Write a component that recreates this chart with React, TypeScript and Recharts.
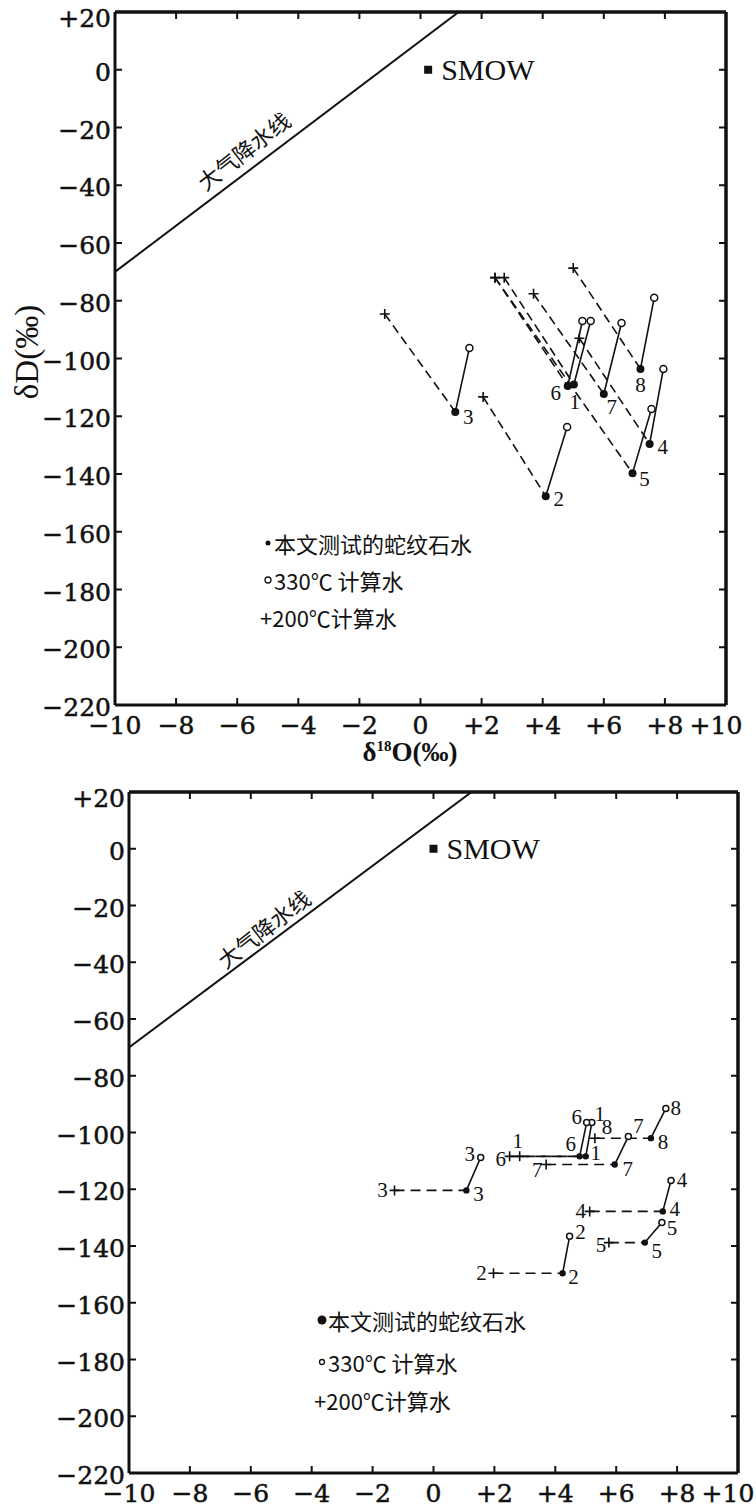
import React from 'react';
import { ScatterChart, Scatter, XAxis, YAxis, ReferenceLine } from 'recharts';

// sample numbers, same order in every array below
const SAMPLE_IDS = ['1', '2', '3', '4', '5', '6', '7', '8'];

// upper figure: measured serpentine water, 330°C water, 200°C water (δ18O, δD)
const TOP_SERP_O = [5.02, 4.1, 1.14, 7.5, 6.94, 4.82, 6.0, 7.2];
const TOP_SERP_D = [-109, -147.7, -118.5, -129.6, -139.7, -109.5, -112.3, -103.6];
const TOP_W330_O = [5.57, 4.8, 1.6, 7.95, 7.56, 5.3, 6.58, 7.65];
const TOP_W330_D = [-87, -123.7, -96.4, -103.6, -117.5, -87, -87.7, -79];
const TOP_W200_O = [2.74, 2.05, -1.17, 5.2, 2.44, 2.44, 3.7, 5.0];
const TOP_W200_D = [-72, -113.3, -84.6, -93, -72, -72, -77.6, -68.7];

// lower figure
const BOT_SERP_O = [5.0, 4.24, 1.08, 7.53, 6.94, 4.8, 5.95, 7.14];
const BOT_SERP_D = [-108.4, -149.6, -120.4, -127.8, -138.8, -108.4, -111.3, -102];
const BOT_W330_O = [5.2, 4.47, 1.55, 7.8, 7.5, 5.03, 6.4, 7.63];
const BOT_W330_D = [-96.5, -136.6, -108.8, -116.9, -131.7, -96.5, -101.4, -91.5];
const BOT_W200_O = [2.83, 1.97, -1.28, 5.13, 5.76, 2.5, 3.7, 5.3];
const BOT_W200_D = [-108.4, -149.6, -120.4, -127.8, -138.8, -108.4, -111.3, -102];

// meteoric water line end points and SMOW
const MWL_O = [-10, 1.25];
const MWL_D = [-70, 20];
const SMOW_TOP = { o: 0.25, d: 0 };
const SMOW_BOT = { o: 0, d: 0 };

const O_TICKS = [-10, -8, -6, -4, -2, 0, 2, 4, 6, 8, 10];
const D_TICKS = [-220, -200, -180, -160, -140, -120, -100, -80, -60, -40, -20, 0, 20];

// label offsets in px (dx, dy) for the sample numbers
const TOP_SERP_LBL = [[1, 18], [13, 3], [13, 5], [13, 3], [12, 6], [-12, 7], [8, 13], [0, 16]];
const BOT_SERP_LBL = [[10, -3], [11, 4], [12, 4], [12, -2], [12, 8], [-9, -12], [13, 4], [12, 4]];
const BOT_W330_LBL = [[8, -9], [11, -4], [-11, -3], [11, 0], [10, 6], [-10, -6], [10, -10], [10, 0]];
const BOT_W200_LBL = [[-2, -15], [-12, 0], [-12, 0], [-9, 0], [-8, 2], [-9, 3], [-9, 5], [12, -11]];

const INK = '#111';
const FONT_NUM = '"DejaVu Serif", serif';
const FONT_LBL = '"Liberation Serif", serif';
const FONT_CJK = '"Noto Sans CJK SC", sans-serif';

type Pt = { o: number; d: number; label?: string; dx: number; dy: number };

const build = (os: number[], ds: number[], lbl?: number[][]): Pt[] =>
  os.map((o, i) => ({
    o,
    d: ds[i],
    label: lbl ? SAMPLE_IDS[i] : undefined,
    dx: lbl ? lbl[i][0] : 0,
    dy: lbl ? lbl[i][1] : 0,
  }));

const fmt = (v: number) => (v > 0 ? `+${v}` : v < 0 ? `\u2212${-v}` : '0');

const tickText = { fill: INK, stroke: INK, strokeWidth: 0.5, fontSize: 25, fontFamily: FONT_NUM };

const xTick = (p: any) => {
  const v = p.payload.value;
  return (
    <text x={p.x + (v === 10 ? -10 : 0)} y={p.y} dy="0.71em" textAnchor="middle" {...tickText}>
      {fmt(v)}
    </text>
  );
};

const yTick = (p: any) => {
  const v = p.payload.value;
  return (
    <text x={p.x} y={p.y + (v === 20 ? 6 : 2)} dy="0.36em" textAnchor="end" {...tickText}>
      {fmt(v)}
    </text>
  );
};

const noTick = () => <g />;

const numLabel = (p: any) =>
  p.payload.label ? (
    <text
      x={p.cx + p.payload.dx}
      y={p.cy + p.payload.dy}
      textAnchor="middle"
      dominantBaseline="central"
      fontFamily={FONT_LBL}
      fontSize={21}
      fill={INK}
    >
      {p.payload.label}
    </text>
  ) : null;

const solidShape = (r: number) => (p: any) => (
  <g>
    <circle cx={p.cx} cy={p.cy} r={r} fill={INK} />
    {numLabel(p)}
  </g>
);

const openShape = (r: number) => (p: any) => (
  <g>
    <circle cx={p.cx} cy={p.cy} r={r} fill="#fff" stroke={INK} strokeWidth={1.5} />
    {numLabel(p)}
  </g>
);

const plusShape = (a: number) => (p: any) => (
  <g>
    <path d={`M${p.cx - a},${p.cy}H${p.cx + a}M${p.cx},${p.cy - a}V${p.cy + a}`} stroke={INK} strokeWidth={1.6} />
    {numLabel(p)}
  </g>
);

const noShape = () => <g />;

const smowShape = (p: any) => (
  <g>
    <rect x={p.cx - 4} y={p.cy - 4} width={8} height={8} fill={INK} />
    <text x={p.cx + 13} y={p.cy} dominantBaseline="central" fontFamily={FONT_LBL} fontSize={30} fill={INK}>
      SMOW
    </text>
  </g>
);

type ChartProps = {
  serp: Pt[];
  w330: Pt[];
  w200: Pt[];
  smow: { o: number; d: number };
  width: number;
  height: number;
  margin: { top: number; right: number; bottom: number; left: number };
  yWidth: number;
  xHeight: number;
  dash: string;
  solidR: number;
  openR: number;
};

function IsotopeChart(c: ChartProps) {
  const mwl = MWL_O.map((o, i) => ({ o, d: MWL_D[i] }));
  const axisLine = { stroke: INK, strokeWidth: 3 };
  const tickLine = { stroke: INK, strokeWidth: 2 };
  return (
    <ScatterChart width={c.width} height={c.height} margin={c.margin}>
      <XAxis
        type="number"
        dataKey="o"
        domain={[-10, 10]}
        ticks={O_TICKS}
        interval={0}
        allowDataOverflow
        height={c.xHeight}
        tickSize={-7}
        tickMargin={18}
        tick={xTick}
        axisLine={axisLine}
        tickLine={tickLine}
      />
      <YAxis
        type="number"
        dataKey="d"
        domain={[-220, 20]}
        ticks={D_TICKS}
        interval={0}
        allowDataOverflow
        width={c.yWidth}
        tickSize={-7}
        tickMargin={11}
        tick={yTick}
        axisLine={axisLine}
        tickLine={tickLine}
      />
      <XAxis
        xAxisId="top"
        orientation="top"
        type="number"
        dataKey="o"
        domain={[-10, 10]}
        ticks={O_TICKS}
        interval={0}
        allowDataOverflow
        height={1}
        tickSize={-7}
        tick={noTick}
        axisLine={axisLine}
        tickLine={tickLine}
      />
      <YAxis
        yAxisId="right"
        orientation="right"
        type="number"
        dataKey="d"
        domain={[-220, 20]}
        ticks={D_TICKS}
        interval={0}
        allowDataOverflow
        width={1}
        tickSize={-7}
        tick={noTick}
        axisLine={axisLine}
        tickLine={tickLine}
      />
      <ReferenceLine y={20} stroke={INK} strokeWidth={3} />
      <ReferenceLine x={10} stroke={INK} strokeWidth={3} />
      <Scatter xAxisId="top" yAxisId="right" data={[c.smow]} shape={noShape} isAnimationActive={false} />
      <Scatter data={mwl} line={{ stroke: INK, strokeWidth: 2 }} shape={noShape} isAnimationActive={false} />
      {SAMPLE_IDS.map((id, i) => (
        <Scatter
          key={`d${id}`}
          data={[c.w200[i], c.serp[i]]}
          line={{ stroke: INK, strokeWidth: 1.6, strokeDasharray: c.dash }}
          shape={noShape}
          isAnimationActive={false}
        />
      ))}
      {SAMPLE_IDS.map((id, i) => (
        <Scatter
          key={`s${id}`}
          data={[c.serp[i], c.w330[i]]}
          line={{ stroke: INK, strokeWidth: 1.6 }}
          shape={noShape}
          isAnimationActive={false}
        />
      ))}
      <Scatter data={c.w200} shape={plusShape(5)} isAnimationActive={false} />
      <Scatter data={c.w330} shape={openShape(c.openR)} isAnimationActive={false} />
      <Scatter data={c.serp} shape={solidShape(c.solidR)} isAnimationActive={false} />
      <Scatter data={[c.smow]} shape={smowShape} isAnimationActive={false} />
    </ScatterChart>
  );
}

const abs = (left: number, top: number, extra: React.CSSProperties = {}): React.CSSProperties => ({
  position: 'absolute',
  left,
  top,
  whiteSpace: 'nowrap',
  color: INK,
  lineHeight: 1,
  ...extra,
});

function LegendRows({ x, ys, size, dotR, ringR }: { x: number; ys: number[]; size: number; dotR: number; ringR: number }) {
  const txt = { fontFamily: FONT_CJK, fontSize: size, transform: 'translateY(-50%)' };
  return (
    <>
      <svg style={abs(x - 6, ys[0] - 6)} width={12} height={12}>
        <circle cx={6} cy={6} r={dotR} fill={INK} />
      </svg>
      <div style={abs(x + 6, ys[0], txt)}>本文测试的蛇纹石水</div>
      <svg style={abs(x - 6, ys[1] - 6)} width={12} height={12}>
        <circle cx={6} cy={6} r={ringR} fill="#fff" stroke={INK} strokeWidth={1.3} />
      </svg>
      <div style={abs(x + 6, ys[1], txt)}>330℃ 计算水</div>
      <div style={abs(x - 8, ys[2], txt)}>+200℃计算水</div>
    </>
  );
}

export default function App() {
  return (
    <div style={{ position: 'absolute', left: 0, top: 0, width: 756, height: 1510, background: '#fff' }}>
      <div style={abs(0, 0)}>
        <IsotopeChart
          serp={build(TOP_SERP_O, TOP_SERP_D, TOP_SERP_LBL)}
          w330={build(TOP_W330_O, TOP_W330_D)}
          w200={build(TOP_W200_O, TOP_W200_D)}
          smow={SMOW_TOP}
          width={756}
          height={760}
          margin={{ top: 11, right: 29, bottom: 0, left: 0 }}
          yWidth={115}
          xHeight={55}
          dash="9 5"
          solidR={4}
          openR={3.5}
        />
      </div>
      <div style={abs(0, 760)}>
        <IsotopeChart
          serp={build(BOT_SERP_O, BOT_SERP_D, BOT_SERP_LBL)}
          w330={build(BOT_W330_O, BOT_W330_D, BOT_W330_LBL)}
          w200={build(BOT_W200_O, BOT_W200_D, BOT_W200_LBL)}
          smow={SMOW_BOT}
          width={756}
          height={750}
          margin={{ top: 31, right: 17, bottom: 0, left: 0 }}
          yWidth={129}
          xHeight={37}
          dash="10 6"
          solidR={3.2}
          openR={3}
        />
      </div>

      {/* axis titles of the upper figure */}
      <div style={abs(27, 352, { fontFamily: FONT_LBL, fontSize: 33, transform: 'translate(-50%,-50%) rotate(-90deg)' })}>
        δD(‰)
      </div>
      <div style={abs(410, 752, { fontFamily: FONT_LBL, fontSize: 27, fontWeight: 'bold', transform: 'translate(-50%,-50%)' })}>
        δ<sup style={{ fontSize: 15 }}>18</sup>O(‰)
      </div>

      {/* meteoric water line labels */}
      <div style={abs(243, 150, { fontFamily: FONT_CJK, fontSize: 22, transform: 'translate(-50%,-50%) rotate(-38deg)' })}>
        大气降水线
      </div>
      <div style={abs(263, 928, { fontFamily: FONT_CJK, fontSize: 22, transform: 'translate(-50%,-50%) rotate(-38deg)' })}>
        大气降水线
      </div>

      <LegendRows x={268} ys={[543, 580, 617]} size={22} dotR={2.5} ringR={3} />
      <LegendRows x={322} ys={[1320, 1362, 1400]} size={22} dotR={4.5} ringR={2.5} />
    </div>
  );
}
